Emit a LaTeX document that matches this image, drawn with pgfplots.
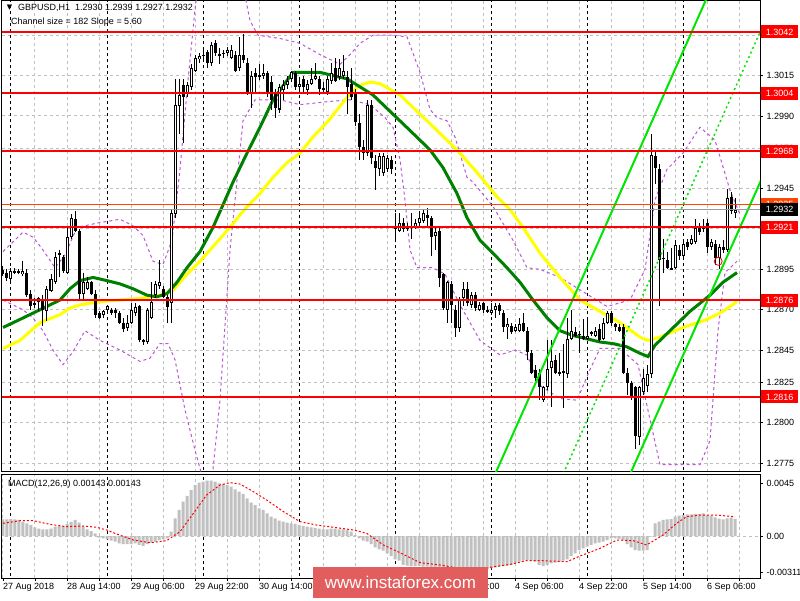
\documentclass[border=0pt]{standalone}
\usepackage{fontspec}
\setmainfont{Liberation Sans}
\newfontfamily\symfont{DejaVu Sans}
\usepackage{pgfplots}
\usepackage{pgfplotstable}
\pgfplotsset{compat=1.18}

\definecolor{lvlred}{RGB}{255,0,0}
\definecolor{maslow}{RGB}{255,255,0}
\definecolor{mafast}{RGB}{0,128,0}
\definecolor{bands}{RGB}{186,85,211}
\definecolor{chan}{RGB}{0,230,0}
\definecolor{histo}{RGB}{192,192,192}
\definecolor{gridc}{RGB}{192,192,192}
\definecolor{askc}{RGB}{255,69,0}
\definecolor{wmark}{RGB}{226,94,94}

\newcommand\mt{\fontsize{9pt}{10pt}\selectfont}

% GBPUSD H1 bars: index, open, high, low, close
\pgfplotstableread{
i o h l c
0 1.2895 1.2897 1.2891 1.2892
1 1.2893 1.2895 1.2888 1.2890
2 1.2889 1.2896 1.2888 1.2894
3 1.2893 1.2896 1.2892 1.2894
4 1.2893 1.2895 1.2892 1.2894
5 1.2892 1.2900 1.2891 1.2894
6 1.2893 1.2895 1.2878 1.2879
7 1.2880 1.2882 1.2870 1.2872
8 1.2873 1.2877 1.2871 1.2874
9 1.2875 1.2878 1.2869 1.2877
10 1.2877 1.2879 1.2860 1.2870
11 1.2869 1.2885 1.2863 1.2883
12 1.2882 1.2892 1.2881 1.2889
13 1.2887 1.2906 1.2886 1.2903
14 1.2904 1.2907 1.2890 1.2905
15 1.2903 1.2904 1.2893 1.2894
16 1.2893 1.2921 1.2892 1.2915
17 1.2915 1.2929 1.2914 1.2927
18 1.2926 1.2931 1.2918 1.2919
19 1.2919 1.2920 1.2876 1.2880
20 1.2880 1.2893 1.2876 1.2887
21 1.2883 1.2890 1.2882 1.2887
22 1.2887 1.2888 1.2879 1.2880
23 1.2880 1.2882 1.2865 1.2867
24 1.2868 1.2869 1.2864 1.2865
25 1.2867 1.2870 1.2865 1.2869
26 1.2870 1.2873 1.2869 1.2872
27 1.2870 1.2871 1.2867 1.2868
28 1.2870 1.2871 1.2865 1.2868
29 1.2868 1.2869 1.2861 1.2862
30 1.2862 1.2865 1.2856 1.2858
31 1.2859 1.2867 1.2857 1.2862
32 1.2862 1.2874 1.2861 1.2870
33 1.2868 1.2874 1.2866 1.2872
34 1.2872 1.2873 1.2850 1.2851
35 1.2851 1.2852 1.2848 1.2850
36 1.2850 1.2871 1.2849 1.2870
37 1.2865 1.2887 1.2864 1.2875
38 1.2879 1.2888 1.2877 1.2886
39 1.2885 1.2901 1.2883 1.2887
40 1.2883 1.2885 1.2877 1.2878
41 1.2878 1.2879 1.2862 1.2872
42 1.2874 1.2932 1.2862 1.2930
43 1.2929 1.3013 1.2927 1.2997
44 1.2996 1.3013 1.2979 1.3003
45 1.3009 1.3013 1.2973 1.3002
46 1.3004 1.3011 1.3002 1.3009
47 1.3008 1.3022 1.3006 1.3020
48 1.3018 1.3028 1.3017 1.3026
49 1.3025 1.3029 1.3023 1.3027
50 1.3027 1.3031 1.3025 1.3028
51 1.3030 1.3031 1.3020 1.3023
52 1.3023 1.3036 1.3021 1.3034
53 1.3035 1.3037 1.3027 1.3029
54 1.3028 1.3032 1.3022 1.3028
55 1.3029 1.3031 1.3026 1.3029
56 1.3029 1.3033 1.3027 1.3031
57 1.3026 1.3034 1.3025 1.3031
58 1.3028 1.3030 1.3017 1.3018
59 1.3020 1.3039 1.3018 1.3028
60 1.3028 1.3041 1.3023 1.3025
61 1.3023 1.3026 1.3003 1.3004
62 1.3004 1.3018 1.2995 1.3015
63 1.3017 1.3020 1.3005 1.3014
64 1.3015 1.3022 1.3012 1.3015
65 1.3015 1.3022 1.3013 1.3017
66 1.3017 1.3018 1.3002 1.3004
67 1.3011 1.3015 1.2994 1.3000
68 1.3005 1.3007 1.2989 1.2995
69 1.2994 1.3010 1.2992 1.3008
70 1.3006 1.3012 1.3000 1.3009
71 1.3009 1.3015 1.3007 1.3012
72 1.3013 1.3018 1.3011 1.3017
73 1.3017 1.3018 1.3006 1.3008
74 1.3008 1.3013 1.3006 1.3010
75 1.3013 1.3015 1.3005 1.3008
76 1.3006 1.3012 1.3003 1.3010
77 1.3010 1.3020 1.3009 1.3013
78 1.3013 1.3023 1.3012 1.3015
79 1.3013 1.3015 1.3003 1.3007
80 1.3007 1.3011 1.3005 1.3007
81 1.3005 1.3015 1.3003 1.3013
82 1.3012 1.3023 1.3010 1.3017
83 1.3020 1.3026 1.3011 1.3012
84 1.3014 1.3025 1.3012 1.3020
85 1.3015 1.3028 1.3013 1.3018
86 1.3014 1.3018 1.2991 1.3008
87 1.3010 1.3020 1.3000 1.3002
88 1.3005 1.3007 1.2984 1.2986
89 1.2986 1.2991 1.2963 1.2971
90 1.2971 1.2975 1.2963 1.2967
91 1.2967 1.3000 1.2965 1.2997
92 1.2997 1.3000 1.2960 1.2964
93 1.2962 1.2966 1.2944 1.2958
94 1.2957 1.2967 1.2953 1.2965
95 1.2955 1.2967 1.2953 1.2965
96 1.2957 1.2966 1.2955 1.2964
97 1.2963 1.2965 1.2954 1.2957
98 1.2920 1.2930 1.2913 1.2921
99 1.2919 1.2930 1.2918 1.2924
100 1.2924 1.2927 1.2918 1.2920
101 1.2920 1.2924 1.2919 1.2921
102 1.2921 1.2930 1.2914 1.2922
103 1.2921 1.2926 1.2920 1.2924
104 1.2924 1.2931 1.2921 1.2927
105 1.2925 1.2932 1.2924 1.2930
106 1.2929 1.2933 1.2921 1.2927
107 1.2927 1.2928 1.2903 1.2915
108 1.2916 1.2921 1.2907 1.2918
109 1.2919 1.2921 1.2884 1.2890
110 1.2892 1.2893 1.2870 1.2871
111 1.2870 1.2888 1.2862 1.2887
112 1.2886 1.2888 1.2862 1.2873
113 1.2870 1.2873 1.2853 1.2859
114 1.2859 1.2878 1.2856 1.2876
115 1.2877 1.2887 1.2872 1.2883
116 1.2883 1.2887 1.2872 1.2874
117 1.2873 1.2881 1.2871 1.2879
118 1.2879 1.2881 1.2869 1.2871
119 1.2870 1.2875 1.2869 1.2873
120 1.2874 1.2875 1.2868 1.2870
121 1.2870 1.2872 1.2868 1.2869
122 1.2868 1.2874 1.2867 1.2870
123 1.2870 1.2874 1.2865 1.2872
124 1.2873 1.2874 1.2867 1.2869
125 1.2868 1.2870 1.2856 1.2859
126 1.2859 1.2865 1.2852 1.2861
127 1.2860 1.2862 1.2855 1.2856
128 1.2857 1.2861 1.2856 1.2859
129 1.2857 1.2865 1.2856 1.2861
130 1.2862 1.2868 1.2856 1.2857
131 1.2857 1.2859 1.2839 1.2844
132 1.2843 1.2845 1.2830 1.2831
133 1.2833 1.2836 1.2826 1.2828
134 1.2831 1.2833 1.2814 1.2822
135 1.2814 1.2823 1.2813 1.2822
136 1.2822 1.2851 1.2820 1.2833
137 1.2834 1.2851 1.2810 1.2838
138 1.2839 1.2842 1.2830 1.2831
139 1.2831 1.2843 1.2829 1.2831
140 1.2832 1.2849 1.2809 1.2831
141 1.2830 1.2865 1.2828 1.2852
142 1.2852 1.2870 1.2851 1.2857
143 1.2856 1.2859 1.2853 1.2854
144 1.2855 1.2857 1.2843 1.2855
145 1.2854 1.2864 1.2851 1.2852
146 1.2852 1.2864 1.2851 1.2854
147 1.2855 1.2857 1.2854 1.2856
148 1.2854 1.2859 1.2853 1.2857
149 1.2858 1.2861 1.2850 1.2851
150 1.2852 1.2865 1.2851 1.2862
151 1.2862 1.2869 1.2861 1.2868
152 1.2868 1.2869 1.2860 1.2862
153 1.2861 1.2862 1.2857 1.2859
154 1.2859 1.2861 1.2856 1.2857
155 1.2859 1.2861 1.2830 1.2831
156 1.2831 1.2834 1.2817 1.2825
157 1.2825 1.2826 1.2814 1.2816
158 1.2822 1.2823 1.2784 1.2792
159 1.2791 1.2823 1.2786 1.2822
160 1.2819 1.2833 1.2817 1.2828
161 1.2823 1.2836 1.2819 1.2830
162 1.2830 1.2979 1.2828 1.2966
163 1.2965 1.2969 1.2948 1.2958
164 1.2957 1.2960 1.2872 1.2901
165 1.2902 1.2914 1.2893 1.2902
166 1.2901 1.2906 1.2895 1.2896
167 1.2896 1.2908 1.2895 1.2895
168 1.2896 1.2913 1.2895 1.2910
169 1.2907 1.2910 1.2901 1.2903
170 1.2903 1.2913 1.2901 1.2911
171 1.2912 1.2914 1.2907 1.2909
172 1.2911 1.2916 1.2910 1.2914
173 1.2912 1.2926 1.2911 1.2921
174 1.2921 1.2924 1.2916 1.2918
175 1.2920 1.2926 1.2918 1.2922
176 1.2924 1.2926 1.2905 1.2909
177 1.2909 1.2914 1.2907 1.2912
178 1.2911 1.2913 1.2898 1.2902
179 1.2902 1.2911 1.2895 1.2909
180 1.2909 1.2913 1.2905 1.2907
181 1.2907 1.2945 1.2906 1.2939
182 1.2940 1.2943 1.2929 1.2931
183 1.2930 1.2939 1.2927 1.2932
}\candles

% MACD(12,26,9) main line histogram
\pgfplotstableread{
i m
0 0.00142
1 0.00142
2 0.00144
3 0.00142
4 0.00136
5 0.00122
6 0.00108
7 0.00093
8 0.00074
9 0.00062
10 0.00057
11 0.00057
12 0.00062
13 0.00079
14 0.00085
15 0.00085
16 0.00102
17 0.00119
18 0.00136
19 0.00113
20 0.00079
21 0.00057
22 0.00042
23 0.00023
24 -0.00014
25 -0.00020
26 -0.00028
27 -0.00040
28 -0.00048
29 -0.00062
30 -0.00068
31 -0.00068
32 -0.00068
33 -0.00062
34 -0.00076
35 -0.00085
36 -0.00068
37 -0.00057
38 -0.00048
39 -0.00034
40 -0.00028
41 -0.00020
42 0.00037
43 0.00150
44 0.00221
45 0.00292
46 0.00340
47 0.00390
48 0.00433
49 0.00453
50 0.00461
51 0.00470
52 0.00470
53 0.00461
54 0.00447
55 0.00441
56 0.00433
57 0.00419
58 0.00396
59 0.00376
60 0.00357
61 0.00320
62 0.00283
63 0.00263
64 0.00235
65 0.00221
66 0.00192
67 0.00164
68 0.00150
69 0.00130
70 0.00122
71 0.00113
72 0.00108
73 0.00102
74 0.00093
75 0.00085
76 0.00079
77 0.00074
78 0.00068
79 0.00062
80 0.00057
81 0.00057
82 0.00062
83 0.00062
84 0.00057
85 0.00057
86 0.00051
87 0.00037
88 0.00008
89 -0.00020
90 -0.00040
91 -0.00048
92 -0.00068
93 -0.00096
94 -0.00113
95 -0.00125
96 -0.00147
97 -0.00170
98 -0.00198
99 -0.00209
100 -0.00246
101 -0.00252
102 -0.00255
103 -0.00255
104 -0.00255
105 -0.00260
106 -0.00260
107 -0.00266
108 -0.00266
109 -0.00275
110 -0.00289
111 -0.00294
112 -0.00303
113 -0.00311
114 -0.00311
115 -0.00311
116 -0.00306
117 -0.00303
118 -0.00297
119 -0.00294
120 -0.00289
121 -0.00283
122 -0.00275
123 -0.00266
124 -0.00260
125 -0.00255
126 -0.00252
127 -0.00246
128 -0.00232
129 -0.00218
130 -0.00209
131 -0.00204
132 -0.00209
133 -0.00218
134 -0.00246
135 -0.00255
136 -0.00246
137 -0.00232
138 -0.00226
139 -0.00218
140 -0.00209
141 -0.00198
142 -0.00170
143 -0.00147
144 -0.00119
145 -0.00105
146 -0.00091
147 -0.00076
148 -0.00062
149 -0.00057
150 -0.00048
151 -0.00034
152 -0.00020
153 -0.00020
154 -0.00025
155 -0.00034
156 -0.00068
157 -0.00096
158 -0.00119
159 -0.00125
160 -0.00125
161 -0.00119
162 -0.00006
163 0.00108
164 0.00122
165 0.00136
166 0.00142
167 0.00144
168 0.00164
169 0.00173
170 0.00178
171 0.00184
172 0.00184
173 0.00187
174 0.00187
175 0.00192
176 0.00178
177 0.00173
178 0.00158
179 0.00147
180 0.00142
181 0.00150
182 0.00156
183 0.00143
}\macd

\pgfplotsset{
  mtaxis/.style={scale only axis, anchor=south west, width=758pt,
    xmin=-0.25, xmax=189.25, scaled ticks=false,
    axis line style={black, line width=1pt},
    tick style={black, line width=0.8pt}, tick align=outside, major tick length=3pt,
    ytick pos=right, xtick pos=bottom,
    grid style={gridc, dash pattern=on 3pt off 3pt, line width=1pt},
    ticklabel style={font=\mt},
    clip mode=individual},
  daysep/.style={black, dash pattern=on 3pt off 3pt, line width=1pt, forget plot},
  level/.style={lvlred, line width=2pt, forget plot},
}
\tikzset{lbox/.style={font=\mt, text=white, anchor=west, minimum width=37pt,
    minimum height=13pt, inner sep=0pt, xshift=1pt}}

\begin{document}
\begin{tikzpicture}
\fill[white] (0,0) rectangle (800pt,600pt);
\path[use as bounding box] (0,0) rectangle (800pt,600pt);

% ---------------- price panel ----------------
\begin{axis}[mtaxis, at={(2pt,128pt)}, height=471pt,
  ymin=1.27695, ymax=1.30612,
  xtick={8,16,...,184}, xticklabels={}, xtick style={draw=none}, xmajorgrids,
  ytick={1.2775,1.2800,1.2825,1.2845,1.2870,1.2895,1.2920,1.2945,1.2970,1.2990,1.3015,1.3040},
  yticklabels={1.2775,1.2800,1.2825,1.2845,1.2870,1.2895,1.2920,1.2945,1.2970,1.2990,1.3015,1.3040},
  ymajorgrids]

\pgfplotsinvokeforeach{2,26,50,74,98,122,146,170}{
  \addplot[daysep] coordinates {(#1,1.27) (#1,1.31)};
}

% Bollinger bands
\addplot[bands, dash pattern=on 3pt off 3pt, line width=1pt, forget plot] coordinates {
(0,1.2906) (5,1.2918) (7.5,1.2915) (10,1.2907) (13,1.2896) (15.5,1.2904) (18.5,1.2921)
(24.25,1.2924) (29.25,1.2926) (32.5,1.2922) (35,1.2916) (37.5,1.2900) (40,1.2898)
(42.25,1.2913) (44.25,1.2957) (46.25,1.3012) (48,1.3056) (49.25,1.3080) (59.25,1.3080)
(61.75,1.3049) (63.75,1.3040) (69.25,1.3038) (74.25,1.3035) (79.25,1.3028) (84.25,1.3022)
(86.75,1.3028) (89.25,1.3035) (92.5,1.3040) (97.5,1.3040) (101,1.3039) (104.25,1.3017)
(106.75,1.2994) (108.5,1.2989) (111,1.2987) (113,1.2977) (116,1.2952) (117.5,1.2949)
(122.5,1.2934) (127.5,1.2913) (131,1.2896) (134.25,1.2895)
(139.25,1.2890) (151,1.2872) (156.75,1.2876) (160.5,1.2895) (163,1.2938) (166,1.2957)
(170,1.2967) (174.25,1.2983) (178,1.2975) (181.75,1.2944) (184.25,1.2929)};
\addplot[bands, dash pattern=on 3pt off 3pt, line width=1pt, forget plot] coordinates {
(0,1.2876) (2.5,1.2873) (5,1.2870) (7.5,1.2865) (10,1.2857) (12.5,1.2845) (15,1.2836)
(17.5,1.2844) (20.5,1.2857) (24.25,1.2851) (29.25,1.2845) (34.25,1.2838) (36.75,1.2840)
(39.25,1.2849) (41.25,1.2849) (43,1.2839) (45.5,1.2808) (48,1.2783) (50,1.2765)
(52.25,1.2765) (54.25,1.2814) (56.75,1.2907) (60,1.2987) (63,1.3000) (69.25,1.3000)
(74.25,1.2997) (81.75,1.2999) (86.75,1.3000) (91.75,1.2997) (95.5,1.2989) (97.5,1.2983)
(99.25,1.2963) (100.5,1.2938) (101.75,1.2907) (103.5,1.2896) (107.5,1.2896) (110.5,1.2892)
(114.25,1.2873) (119.25,1.2851) (124.25,1.2842)
(128,1.2845) (131,1.2842) (134.25,1.2823) (139.25,1.2815) (143.5,1.2814) (146.75,1.2833)
(149.25,1.2846) (154.25,1.2846) (158.75,1.2836) (161.75,1.2802) (164.25,1.2774)
(174.25,1.2774) (176.75,1.2789) (178.75,1.2857) (180.5,1.2893) (183.5,1.2900)};

% moving averages
\addplot[maslow, line width=3pt, forget plot] coordinates {
(0,1.2846) (4.25,1.2851) (9.25,1.2862) (14.25,1.2867) (16.75,1.2871) (19.25,1.2873)
(24.25,1.2875) (29.25,1.2876) (34.25,1.2877) (39.25,1.2879) (42.5,1.2882) (46,1.2892)
(49.25,1.2900) (56.75,1.2921) (60,1.2931) (64.25,1.2942) (67.5,1.2952) (71,1.2961)
(74.25,1.2967) (77.5,1.2977) (81,1.2986) (84.25,1.2996) (86.75,1.3004) (89.25,1.3009)
(91.75,1.3011) (94.25,1.3010) (99.25,1.3003) (108.5,1.2981) (113.5,1.2969) (118.5,1.2955)
(123.5,1.2940) (126.75,1.2932) (130,1.2921) (134.25,1.2905) (139.25,1.2890) (144.25,1.2876)
(149.25,1.2869) (154.25,1.2862) (159.25,1.2853) (161.25,1.2851) (164.25,1.2853)
(170,1.2859) (176,1.2864) (180,1.2869) (183.5,1.2875)};
\addplot[mafast, line width=3pt, forget plot] coordinates {
(0,1.2859) (4.25,1.2864) (9.25,1.2870) (14.25,1.2876) (16.75,1.2883) (19.25,1.2888)
(22.5,1.2890) (26,1.2888) (29.25,1.2886) (32.5,1.2883) (36,1.2879) (38.5,1.2878)
(41,1.2880) (43.5,1.2887) (46,1.2896) (49.25,1.2906) (52.5,1.2921) (57.5,1.2949)
(61,1.2967) (64.25,1.2983) (67.5,1.3000) (71,1.3012) (72.5,1.3017) (76,1.3017)
(79.25,1.3017) (82.5,1.3015) (86,1.3013) (89.25,1.3008) (92.5,1.3003) (101.75,1.2981)
(106.75,1.2969) (110,1.2958) (113.5,1.2942) (116,1.2927) (119.25,1.2913) (122.5,1.2905)
(126,1.2896) (129.25,1.2887) (132.5,1.2876) (136,1.2865) (139.25,1.2857) (142.5,1.2854)
(146,1.2852) (149.25,1.2850) (152.5,1.2849) (156,1.2847) (159.25,1.2843) (161.25,1.2841)
(163,1.2848) (166.75,1.2857) (171.75,1.2869) (176.75,1.2879) (180,1.2887) (183.5,1.2893)};

% candles: wicks, bodies, hollow inside of rising bodies
\addplot[draw=none, forget plot, error bars/.cd, y dir=plus, y explicit, error mark=none,
  error bar style={draw=black, line width=1pt}]
  table[x=i, y=l, y error plus expr=\thisrow{h}-\thisrow{l}] {\candles};
\addplot[draw=none, forget plot, error bars/.cd, y dir=both, y explicit, error mark=none,
  error bar style={draw=black, line width=3pt}]
  table[x=i, y expr=(\thisrow{o}+\thisrow{c})/2,
        y error expr={max(abs(\thisrow{o}-\thisrow{c})/2,0.00003)}] {\candles};
\addplot[draw=none, forget plot, restrict expr to domain={\thisrow{c}-\thisrow{o}}{0.00013:1},
  error bars/.cd, y dir=both, y explicit, error mark=none,
  error bar style={draw=white, line width=1pt}]
  table[x=i, y expr=(\thisrow{o}+\thisrow{c})/2,
        y error expr={(\thisrow{c}-\thisrow{o})/2-0.000062}] {\candles};

% regression channel
\addplot[chan, line width=2pt, forget plot] coordinates {(120,1.27513) (178,1.30745)};
\addplot[chan, line width=1.5pt, dash pattern=on 2pt off 3pt, forget plot] coordinates {(135,1.27402) (190,1.30460)};
\addplot[chan, line width=2pt, forget plot] coordinates {(150,1.27305) (190,1.29529)};

% levels
\addplot[level] coordinates {(-1,1.3042) (190,1.3042)};
\addplot[level] coordinates {(-1,1.3004) (190,1.3004)};
\addplot[level] coordinates {(-1,1.2968) (190,1.2968)};
\addplot[level] coordinates {(-1,1.2921) (190,1.2921)};
\addplot[level] coordinates {(-1,1.2876) (190,1.2876)};
\addplot[level] coordinates {(-1,1.2816) (190,1.2816)};
\addplot[askc, line width=1pt, forget plot] coordinates {(-1,1.2935) (190,1.2935)};
\addplot[gridc!80!black, line width=1pt, forget plot] coordinates {(-1,1.2932) (190,1.2932)};

\addplot[only marks, mark=o, mark size=4pt, red, line width=0.8pt, forget plot] coordinates {(178.8,1.2900)};

\node[lbox, fill=askc] at (axis cs:189.25,1.2935) {1.2935};
\node[lbox, fill=lvlred] at (axis cs:189.25,1.3042) {1.3042};
\node[lbox, fill=lvlred] at (axis cs:189.25,1.3004) {1.3004};
\node[lbox, fill=lvlred] at (axis cs:189.25,1.2968) {1.2968};
\node[lbox, fill=lvlred] at (axis cs:189.25,1.2921) {1.2921};
\node[lbox, fill=lvlred] at (axis cs:189.25,1.2876) {1.2876};
\node[lbox, fill=lvlred] at (axis cs:189.25,1.2816) {1.2816};
\node[lbox, fill=black] at (axis cs:189.25,1.2932) {1.2932};
\end{axis}

% ---------------- MACD panel ----------------
\begin{axis}[mtaxis, at={(2pt,22pt)}, height=104pt,
  ymin=-0.003566, ymax=0.005264,
  xtick={0,8,...,184}, xmajorgrids,
  xticklabels={27 Aug 2018,,28 Aug 14:00,,29 Aug 06:00,,29 Aug 22:00,,30 Aug 14:00,,31 Aug 06:00,,31 Aug 22:00,,3 Sep 14:00,,4 Sep 06:00,,4 Sep 22:00,,5 Sep 14:00,,6 Sep 06:00,,},
  xticklabel style={anchor=north west, inner xsep=0pt, inner ysep=2pt},
  ytick={-0.00311,0,0.0045}, yticklabels={-0.00311,0.00,0.0045}]

\pgfplotsinvokeforeach{2,26,50,74,98,122,146,170}{
  \addplot[daysep] coordinates {(#1,-0.01) (#1,0.01)};
}
\addplot[gridc, dash pattern=on 3pt off 3pt, line width=1pt, forget plot] coordinates {(-1,0) (190,0)};
\addplot[ybar, bar width=3pt, fill=histo, draw=none, forget plot] table[x=i, y=m] {\macd};
\addplot[red, line width=1pt, dash pattern=on 2pt off 2pt, forget plot] coordinates {
(0,0.00108) (4.25,0.00130) (7.6,0.00130) (11.75,0.00099) (15.9,0.00079) (20,0.00085)
(23.4,0.00074) (25.9,0.00051) (28.4,0.00017) (32.6,-0.00034) (36.75,-0.00057) (40.9,-0.00040)
(44.25,0.00037) (47.6,0.00192) (50.9,0.00348) (54.25,0.00433) (56.75,0.00453) (59.25,0.00441)
(62.6,0.00376) (65.9,0.00306) (70.1,0.00207) (74.25,0.00122) (78.4,0.00093) (82.6,0.00074)
(87.6,0.00051) (90.9,0.00023) (95.1,-0.00076) (99.25,-0.00142) (104.25,-0.00226)
(109.25,-0.00246) (114.25,-0.00275) (119.25,-0.00283) (121.75,-0.00266) (126.75,-0.00241)
(131,-0.00209) (134.25,-0.00209) (141,-0.00218) (144.25,-0.00170) (149.25,-0.00105)
(153.5,-0.00034) (157.6,-0.00040) (160.9,-0.00076) (165,0.00008) (168.4,0.00108)
(170.9,0.00164) (174.2,0.00178) (178.4,0.00178) (182.6,0.00164)};
\end{axis}

% captions
\node[inner sep=0pt] at (9.5pt,592pt) {\symfont\fontsize{7pt}{7pt}\selectfont ▼};
\node[anchor=west, inner sep=0pt, font=\mt] at (18pt,592pt) {GBPUSD,H1\ \ 1.2930 1.2939 1.2927 1.2932};
\node[anchor=west, inner sep=0pt, font=\mt] at (11pt,578pt) {Channel size = 182 Slope = 5.60};
\node[anchor=west, inner sep=0pt, font=\mt] at (8pt,116pt) {MACD(12,26,9) 0.00143 0.00143};

% watermark
\fill[wmark] (313pt,2pt) rectangle (488pt,33pt);
\node[text=white, inner sep=0pt, font=\fontsize{17pt}{17pt}\selectfont] at (400.5pt,17.5pt) {www.instaforex.com};
\end{tikzpicture}
\end{document}
